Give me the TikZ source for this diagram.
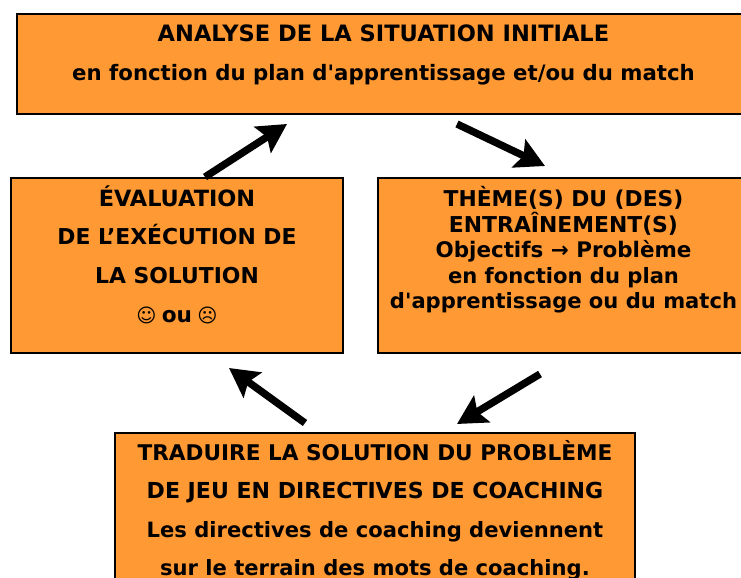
\documentclass[tikz,border=0pt]{standalone}
\usepackage{fontspec}
\setmainfont{DejaVu Sans}
\usetikzlibrary{arrows.meta}

\definecolor{boxorange}{RGB}{255,153,51}

\tikzset{
	stagebox/.style = {draw, line width = 1.3pt, fill = boxorange, inner sep = 0pt},
	stagetext/.style = {anchor = base, inner sep = 0pt, font = \bfseries},
	cyclearrow/.style = {line width = 4.2pt, -{Stealth[length = 16.5pt, width = 17.5pt, inset = 3pt]}}
}

\begin{document}

\begin{tikzpicture}[x = 0.02cm, y = -0.02cm]

	\useasboundingbox (0, 0) rectangle (741, 578);
	\clip (0, 0) rectangle (741, 578);

	% Boxes

	\node [stagebox, minimum width = 15cm, minimum height = 2cm] (analyse) at (392, 64) {};
	\node [stagebox, minimum width = 6.64cm, minimum height = 3.5cm] (evaluation) at (177, 265.5) {};
	\node [stagebox, minimum width = 8cm, minimum height = 3.5cm] (theme) at (578, 265.5) {};
	\node [stagebox, minimum width = 10.4cm, minimum height = 4cm] (traduire) at (375, 533) {};

	% Labels of the top box

	\foreach \y/\f/\s [count = \n] in {41/12.83/{ANALYSE DE LA SITUATION INITIALE}, 80/12.1/{en fonction du plan d\textquotesingle apprentissage et/ou du match}}
		\node [stagetext] (analyse\n) at (383.5, \y) {\fontsize{\f}{15}\selectfont\s};

	% Labels of the left box

	\foreach \y/\f/\s [count = \n] in {206/12.75/{ÉVALUATION}, 244/12.45/{DE L’EXÉCUTION DE}, 283/12.45/{LA SOLUTION}, 322/12.3/{{\fontsize{11}{15}\selectfont☺}\hspace{3pt}ou\hspace{3pt}{\fontsize{11}{15}\selectfont☹}}}
		\node [stagetext] (evaluation\n) at (177, \y) {\fontsize{\f}{15}\selectfont\s};

	% Labels of the right box

	\foreach \y/\f/\s [count = \n] in {206/12.4/{THÈME(S) DU (DES)}, 232/12.45/{ENTRAÎNEMENT(S)}, 257/12.2/{Objectifs → Problème}, 283/12/{en fonction du plan}, 308/12/{d\textquotesingle apprentissage ou du match}}
		\node [stagetext] (theme\n) at (563.5, \y) {\fontsize{\f}{15}\selectfont\s};

	% Labels of the bottom box

	\foreach \y/\f/\s [count = \n] in {460/12.3/{TRADUIRE LA SOLUTION DU PROBLÈME}, 498/12.55/{DE JEU EN DIRECTIVES DE COACHING}, 537/12/{Les directives de coaching deviennent}, 575/12/{sur le terrain des mots de coaching.}}
		\node [stagetext] (traduire\n) at (375, \y) {\fontsize{\f}{15}\selectfont\s};

	% Arrow ends

	\coordinate (analyseOut) at (457, 124);
	\coordinate (themeIn) at (545, 166);
	\coordinate (themeOut) at (540, 374);
	\coordinate (traduireIn) at (457, 424);
	\coordinate (traduireOut) at (305, 423);
	\coordinate (evaluationIn) at (229, 368);
	\coordinate (evaluationOut) at (205, 177);
	\coordinate (analyseIn) at (287, 124);

	% Arrows

	\draw [cyclearrow] (analyseOut) -- (themeIn);
	\draw [cyclearrow] (themeOut) -- (traduireIn);
	\draw [cyclearrow] (traduireOut) -- (evaluationIn);
	\draw [cyclearrow] (evaluationOut) -- (analyseIn);

\end{tikzpicture}

\end{document}
